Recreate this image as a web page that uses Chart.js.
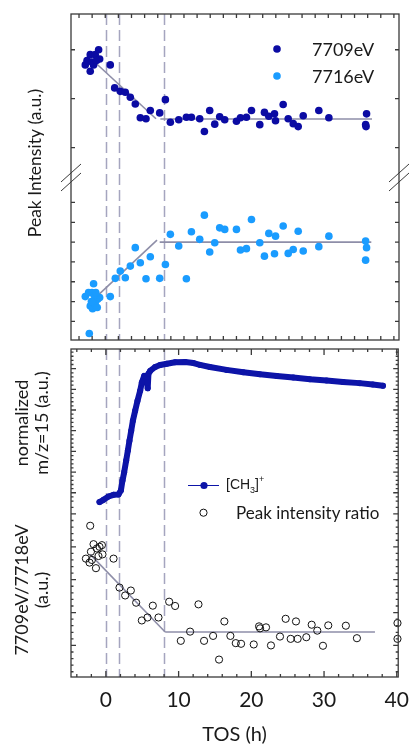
<!DOCTYPE html>
<html>
<head>
<meta charset="utf-8">
<script src="https://cdn.jsdelivr.net/npm/chart.js@4/dist/chart.umd.min.js"></script>
<style>
  html, body { margin: 0; padding: 0; background: #fff; }
  #wrap { position: relative; width: 412px; height: 747px; }
  canvas { position: absolute; left: 0; }
</style>
</head>
<body>
<div id="wrap">
  <canvas id="topChart" width="412" height="344" style="top:0"></canvas>
  <canvas id="bottomChart" width="412" height="403" style="top:344px"></canvas>
</div>
<script>
// ---- data (TOS in hours, intensities in arbitrary units) ----
const tos7709 = [-2.84, -2.6, -2.16, -2.16, -1.93, -1.70, -1.47, -1.01, -0.87, -1.3, 0.59, 1.19, 1.96, 2.65, 3.34, 4.02, 4.71, 5.49, 6.08, 7.37, 8.15, 8.83, 9.98, 11.03, 11.72, 12.86, 13.5, 14.23, 14.92, 15.6, 16.29, 17.9, 18.45, 19.27, 19.96, 21.1, 21.74, 22.34, 23.12, 23.26, 24.31, 25.0, 25.69, 26.37, 27.06, 29.2, 30.58, 35.75, 35.62, 35.68];
const peak7709 = [2.69, 2.78, 2.90, 2.56, 2.75, 2.69, 2.90, 3.0, 2.81, 2.78, 2.69, 2.22, 2.15, 2.13, 2.03, 1.89, 1.61, 1.59, 1.76, 1.71, 1.98, 1.52, 1.57, 1.62, 1.62, 1.59, 1.33, 1.76, 1.48, 1.63, 1.57, 1.54, 1.61, 1.62, 1.76, 1.47, 1.72, 1.64, 1.69, 1.55, 1.88, 1.59, 1.49, 1.43, 1.65, 1.76, 1.61, 1.69, 1.47, 1.43];

const tos7716 = [-2.29, -2.84, -2.39, -1.70, -1.93, -2.16, -1.84, -1.47, -1.15, -0.87, -1.6, -1.2, -2.0, -1.4, 0.59, 1.28, 1.96, 2.65, 3.34, 4.02, 4.71, 5.49, 6.08, 7.37, 8.15, 8.83, 9.98, 11.03, 11.72, 12.86, 13.5, 14.23, 14.92, 15.6, 16.29, 17.9, 18.45, 19.27, 19.96, 21.1, 21.74, 22.34, 23.12, 23.26, 24.31, 25.0, 25.69, 26.37, 27.06, 29.2, 30.58, 35.62, 35.75, 35.62];
const peak7716 = [0.39, 2.25, 2.45, 2.90, 2.45, 1.77, 1.64, 1.86, 2.11, 2.2, 2.3, 1.7, 2.0, 2.45, 2.25, 3.17, 3.54, 3.2, 3.79, 4.72, 3.96, 3.15, 4.26, 3.17, 3.87, 5.39, 4.80, 3.15, 5.52, 5.14, 6.36, 4.50, 4.97, 5.72, 5.64, 5.64, 4.6, 4.67, 6.14, 4.97, 4.29, 5.44, 4.41, 5.30, 5.81, 4.43, 4.63, 5.55, 4.55, 4.77, 5.30, 5.05, 4.72, 4.09];

const tosCH3 = [-0.88, -0.33, 0.36, 1.05, 1.73, 2.06, 2.28, 2.51, 2.79, 3.02, 3.24, 3.48, 3.71, 4.02, 4.34, 4.71, 4.94, 5.26, 5.6, 5.75, 5.85, 6.08, 6.77, 7.46, 8.38, 9.52, 10.9, 12.04, 12.95, 14.3, 16.6, 18.9, 21.2, 23.5, 25.77, 28.06, 30.35, 32.6, 34.9, 36.7, 38.1];
const mz15 = [0.55, 0.66, 0.82, 0.90, 0.92, 1.11, 1.59, 1.99, 2.56, 3.04, 3.52, 4.0, 4.48, 4.96, 5.44, 5.93, 6.33, 6.65, 6.6, 6.05, 6.75, 6.89, 7.08, 7.18, 7.24, 7.31, 7.32, 7.27, 7.18, 7.08, 6.94, 6.83, 6.73, 6.65, 6.57, 6.49, 6.43, 6.36, 6.30, 6.23, 6.17];

const tosRatio = [-2.16, -1.70, -2.75, -2.25, -2.06, -1.37, -1.24, -0.88, -0.55, -0.47, -1.02, -1.93, 1.05, 1.87, 2.65, 3.43, 4.16, 4.94, 5.72, 6.45, 7.23, 8.70, 9.52, 10.3, 11.58, 12.73, 13.5, 14.74, 15.56, 16.29, 17.12, 17.86, 18.59, 20.33, 21.06, 21.2, 22.02, 22.7, 23.94, 24.72, 25.41, 26.14, 26.37, 27.56, 28.3, 29.07, 29.85, 30.58, 33.0, 34.52, 40.1, 40.1];
const ratio = [4.64, 4.08, 3.64, 3.52, 3.85, 3.35, 3.95, 4.0, 4.05, 3.77, 3.72, 3.6, 3.64, 2.76, 2.52, 2.67, 2.30, 1.76, 1.85, 2.21, 1.85, 2.33, 2.20, 1.14, 1.42, 2.25, 1.14, 1.29, 0.57, 1.73, 1.29, 1.07, 1.05, 1.03, 1.58, 1.52, 1.55, 1.0, 1.27, 1.81, 1.2, 1.73, 1.2, 1.25, 1.63, 1.45, 0.99, 1.61, 1.60, 1.22, 1.68, 1.2];

// piecewise linear fits: [slope start, slope end] and [flat start, flat end]
const fit7709Tos = [-1.93, 6.86, 7.46, 36.5];
const fit7709Val = [2.80, 1.59, 1.585, 1.585];
const fit7716Tos = [-1.70, 7.0, 7.37, 36.4];
const fit7716Val = [2.11, 5.10, 5.0, 5.0];
const fitRatioTos = [-2.16, 8.15, 8.15, 37.0];
const fitRatioVal = [3.77, 1.41, 1.41, 1.41];

const markerTimes = [0, 1.8, 8];     // dashed vertical lines
const tosTicks = [0, 10, 20, 30, 40];

// ---- styling ----
const darkBlue = "#0b0ba3";
const lightBlue = "#1a9cff";
const ch3Blue = "#0d14a8";
const fitGrey = "#8e8ea8";
const dashGrey = "#a5a5bf";
const frameColor = "#3a3a3a";
const textColor = "#1a1a1a";

function pts(xs, ys) {
  return xs.map((x, i) => ({ x: x, y: ys[i] }));
}

function fitSets(xs, ys, axis) {
  const base = { type: "line", yAxisID: axis, borderColor: fitGrey, borderWidth: 1.6, pointRadius: 0, fill: false, tension: 0 };
  return [
    Object.assign({ data: pts(xs.slice(0, 2), ys.slice(0, 2)) }, base),
    Object.assign({ data: pts(xs.slice(2, 4), ys.slice(2, 4)) }, base)
  ];
}

function range(start, stop, step) {
  const out = [];
  for (let v = start; v <= stop + 1e-9; v += step) out.push(+v.toFixed(4));
  return out;
}

// draws the frame, inward ticks, dashed markers, titles and legends
const decoPlugin = {
  id: "deco",
  beforeDatasetsDraw(chart, args, opts) {
    const ctx = chart.ctx, a = chart.chartArea, xs = chart.scales.x;
    ctx.save();
    ctx.strokeStyle = dashGrey;
    ctx.lineWidth = 1.5;
    ctx.setLineDash([11, 5]);
    markerTimes.forEach(t => {
      const px = Math.round(xs.getPixelForValue(t)) + 0.5;
      ctx.beginPath();
      ctx.moveTo(px, a.top);
      ctx.lineTo(px, a.bottom);
      ctx.stroke();
    });
    ctx.restore();
  },
  afterDatasetsDraw(chart, args, opts) {
    const ctx = chart.ctx, a = chart.chartArea, xs = chart.scales.x;
    ctx.save();
    ctx.strokeStyle = frameColor;
    ctx.lineWidth = 1.3;
    ctx.strokeRect(a.left, a.top, a.right - a.left, a.bottom - a.top);

    // x ticks, top and bottom, pointing in
    opts.xTicks.forEach(tk => {
      const px = xs.getPixelForValue(tk.v);
      if (px < a.left + 1 || px > a.right - 1) return;
      ctx.beginPath();
      ctx.moveTo(px, a.top); ctx.lineTo(px, a.top + tk.len);
      ctx.moveTo(px, a.bottom); ctx.lineTo(px, a.bottom - tk.len);
      ctx.stroke();
    });
    // y ticks, left and right, per stacked axis
    opts.yTicks.forEach(group => {
      const sc = chart.scales[group.axis];
      group.ticks.forEach(tk => {
        const py = sc.getPixelForValue(tk.v);
        if (py < sc.top + 1 || py > sc.bottom - 1) return;
        ctx.beginPath();
        ctx.moveTo(a.left, py); ctx.lineTo(a.left + tk.len, py);
        ctx.moveTo(a.right, py); ctx.lineTo(a.right - tk.len, py);
        ctx.stroke();
      });
    });
    // axis break marks
    if (opts.breakAxis) {
      const yb = chart.scales[opts.breakAxis].bottom;
      ctx.lineWidth = 1;
      [a.left, a.right].forEach(px => {
        [-4.5, 4.5].forEach(off => {
          ctx.beginPath();
          ctx.moveTo(px - 10, yb + off + 9);
          ctx.lineTo(px + 10, yb + off - 9);
          ctx.stroke();
        });
      });
    }
    ctx.restore();
    if (opts.draw) opts.draw(chart, ctx, a);
  }
};

function vText(ctx, lines, x, y, font, gap) {
  ctx.save();
  ctx.translate(x, y);
  ctx.rotate(-Math.PI / 2);
  ctx.font = font;
  ctx.fillStyle = textColor;
  ctx.textAlign = "center";
  ctx.textBaseline = "middle";
  lines.forEach((ln, i) => ctx.fillText(ln, 0, (i - (lines.length - 1) / 2) * gap));
  ctx.restore();
}

const topXTicks = range(-3.7, 40, 1.8).map(v => ({ v: v, len: 4 }));
const botXTicks = range(-4, 40, 2).map(v => ({ v: v, len: v % 10 === 0 ? 6 : 3 }));
const minorMajor = (lo, hi) => range(lo, hi, 0.2).map(v => ({ v: v, len: Math.abs(v - Math.round(v)) < 1e-6 ? 5 : 2.5 }));

const hiddenAxis = {
  type: "linear", position: "left",
  ticks: { display: false }, grid: { display: false }, border: { display: false },
  afterFit: s => { s.width = 71; }
};

new Chart(document.getElementById("topChart"), {
  type: "scatter",
  data: {
    datasets: [
      { label: "7709eV", data: pts(tos7709, peak7709), yAxisID: "yHigh", backgroundColor: darkBlue, pointRadius: 3.8, borderWidth: 0 },
      { label: "7716eV", data: pts(tos7716, peak7716), yAxisID: "yLow", backgroundColor: lightBlue, pointRadius: 3.8, borderWidth: 0 },
      ...fitSets(fit7709Tos, fit7709Val, "yHigh"),
      ...fitSets(fit7716Tos, fit7716Val, "yLow")
    ]
  },
  options: {
    responsive: false,
    animation: false,
    layout: { padding: { top: 14, right: 13, bottom: 3, left: 0 } },
    plugins: {
      legend: { display: false },
      tooltip: { enabled: false },
      deco: {
        xTicks: topXTicks,
        yTicks: [
          { axis: "yHigh", ticks: [1, 2, 3].map(v => ({ v: v, len: 4 })) },
          { axis: "yLow", ticks: [1, 2, 3, 4, 5, 6, 7].map(v => ({ v: v, len: 4 })) }
        ],
        breakAxis: "yHigh",
        draw(chart, ctx, a) {
          vText(ctx, ["Peak Intensity (a.u.)"], 35, 163, "17.5px Lato", 0);
          ctx.save();
          ctx.font = "18px Lato";
          ctx.textBaseline = "middle";
          [[darkBlue, "7709eV", 49], [lightBlue, "7716eV", 76]].forEach(([c, t, y]) => {
            ctx.fillStyle = c;
            ctx.beginPath();
            ctx.arc(277, y, 3.8, 0, Math.PI * 2);
            ctx.fill();
            ctx.fillStyle = textColor;
            ctx.fillText(t, 312, y + 1);
          });
          ctx.restore();
        }
      }
    },
    scales: {
      x: { type: "linear", min: -4.8, max: 40.2, display: false },
      // stacked: the axis listed last ends up on top
      yLow: Object.assign({}, hiddenAxis, { stack: "peak", stackWeight: 162.7, min: 0.06, max: 8.26 }),
      yHigh: Object.assign({}, hiddenAxis, { stack: "peak", stackWeight: 163.7, min: 0.39, max: 3.73 })
    }
  },
  plugins: [decoPlugin]
});

new Chart(document.getElementById("bottomChart"), {
  type: "scatter",
  data: {
    datasets: [
      { type: "line", label: "[CH3]+", data: pts(tosCH3, mz15), yAxisID: "yCH3", borderColor: ch3Blue, backgroundColor: ch3Blue, borderWidth: 6, pointRadius: 3, pointBorderWidth: 0, tension: 0, fill: false, borderJoinStyle: "round", borderCapStyle: "round" },
      { label: "Peak intensity ratio", data: pts(tosRatio, ratio), yAxisID: "yRatio", backgroundColor: "rgba(0,0,0,0)", borderColor: "#111", borderWidth: 1, pointRadius: 3.6, clip: false },
      ...fitSets(fitRatioTos, fitRatioVal, "yRatio")
    ]
  },
  options: {
    responsive: false,
    animation: false,
    layout: { padding: { top: 4, right: 13, bottom: 0, left: 0 } },
    plugins: {
      legend: { display: false },
      tooltip: { enabled: false },
      deco: {
        xTicks: botXTicks,
        yTicks: [
          { axis: "yCH3", ticks: minorMajor(0.4, 7.9) },
          { axis: "yRatio", ticks: minorMajor(0.2, 5.2) }
        ],
        draw(chart, ctx, a) {
          vText(ctx, ["normalized", "m/z=15 (a.u.)"], 32, 79, "18px Lato", 20);
          vText(ctx, ["7709eV/7718eV", "(a.u.)"], 32, 246, "18px Lato", 20);
          ctx.save();
          // [CH3]+ legend entry
          const ly = 141.5;
          ctx.strokeStyle = ch3Blue;
          ctx.fillStyle = ch3Blue;
          ctx.lineWidth = 1;
          ctx.beginPath(); ctx.moveTo(188, ly); ctx.lineTo(219, ly); ctx.stroke();
          ctx.beginPath(); ctx.arc(204, ly, 3.6, 0, Math.PI * 2); ctx.fill();
          ctx.fillStyle = textColor;
          ctx.textBaseline = "middle";
          ctx.font = "14px 'Liberation Sans'";
          let x = 226;
          ctx.fillText("[CH", x, ly); x += ctx.measureText("[CH").width;
          ctx.font = "9px 'Liberation Sans'";
          ctx.fillText("3", x, ly + 5); x += ctx.measureText("3").width;
          ctx.font = "14px 'Liberation Sans'";
          ctx.fillText("]", x, ly); x += ctx.measureText("]").width;
          ctx.font = "9px 'Liberation Sans'";
          ctx.fillText("+", x, ly - 6);
          // ratio legend entry
          const ry = 168.7;
          ctx.strokeStyle = "#111";
          ctx.beginPath(); ctx.arc(203.5, ry, 3.6, 0, Math.PI * 2); ctx.stroke();
          ctx.font = "17px Lato";
          ctx.fillText("Peak intensity ratio", 236, ry + 1);
          ctx.restore();
        }
      }
    },
    scales: {
      x: {
        type: "linear", min: -4.8, max: 40.2, position: "bottom",
        grid: { display: false }, border: { display: false },
        afterBuildTicks: s => { s.ticks = tosTicks.map(v => ({ value: v })); },
        ticks: { font: { family: "Lato", size: 21 }, color: textColor, padding: 3, maxRotation: 0, autoSkip: false },
        title: { display: true, text: "TOS (h)", font: { family: "Lato", size: 20 }, color: textColor, padding: { top: 17, bottom: 0 } },
        afterFit: s => { s.height = 70; }
      },
      yRatio: Object.assign({}, hiddenAxis, { stack: "panel", stackWeight: 172.3, min: 0.04, max: 5.26 }),
      yCH3: Object.assign({}, hiddenAxis, { stack: "panel", stackWeight: 157, min: 0.39, max: 7.95 })
    }
  },
  plugins: [decoPlugin]
});
</script>
</body>
</html>
